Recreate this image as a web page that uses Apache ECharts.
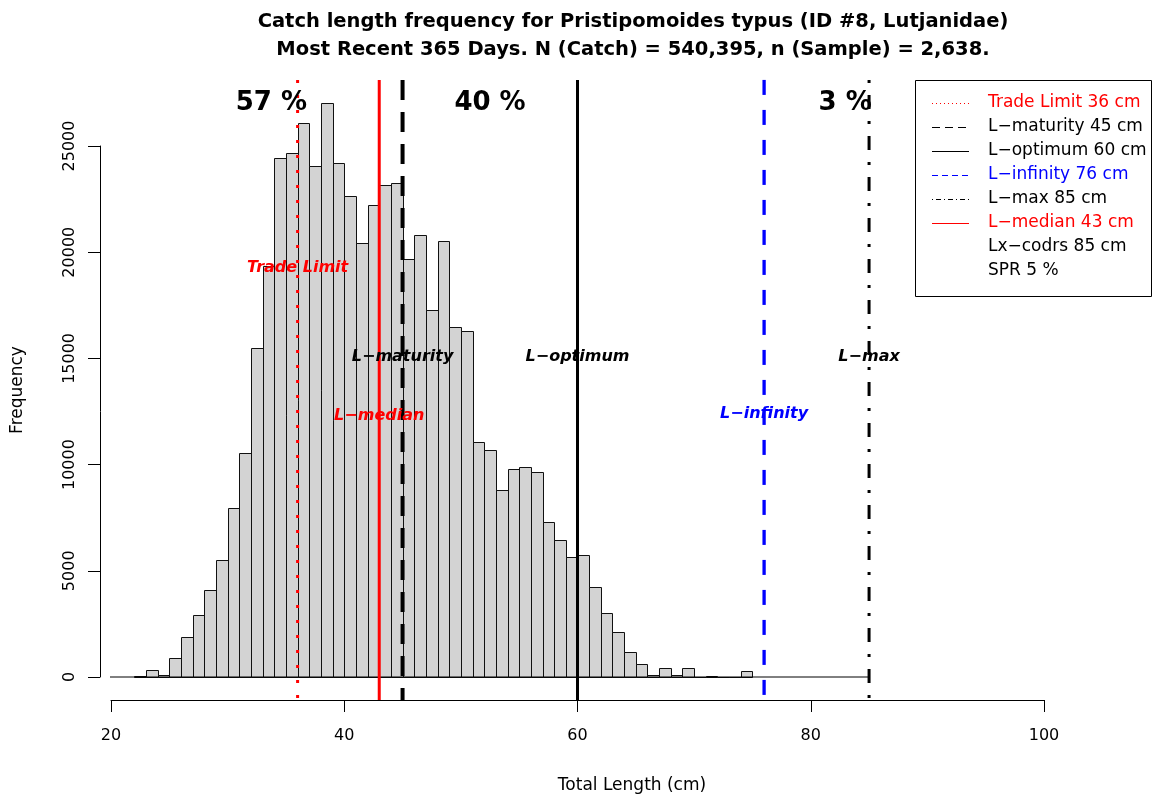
<!DOCTYPE html>
<html><head><meta charset="utf-8">
<script src="https://cdn.jsdelivr.net/npm/echarts@6/dist/echarts.min.js"></script>
<style>html,body{margin:0;padding:0;background:#fff}#c{width:1161px;height:803px}</style>
</head><body><div id="c"></div>
<script>
// ---- data ----
const binStarts = [22,23,24,25,26,27,28,29,30,31,32,33,34,35,36,37,38,39,40,41,42,43,44,45,46,47,48,49,50,51,52,53,54,55,56,57,58,59,60,61,62,63,64,65,66,67,68,69,70,71,72,73,74];
const counts = [50,330,90,880,1900,2930,4080,5520,7950,10530,15490,19330,24450,24690,26060,24070,27030,24180,22640,20430,22220,23170,23260,19700,20790,17280,20540,16500,16280,11050,10680,8800,9780,9880,9660,7320,6470,5670,5750,4240,3000,2120,1160,630,100,440,100,440,0,30,0,0,270];
const refNames = ['Trade Limit','L\u2212maturity','L\u2212optimum','L\u2212infinity','L\u2212max','L\u2212median'];
const refValues = [36,45,60,76,85,43];
const refColors = ['#FF0000','#000000','#000000','#0000FF','#000000','#FF0000'];
const legendLabels = ['Trade Limit 36 cm','L\u2212maturity 45 cm','L\u2212optimum 60 cm','L\u2212infinity 76 cm','L\u2212max 85 cm','L\u2212median 43 cm','Lx\u2212codrs 85 cm','SPR 5 %'];
const legendColors = ['#FF0000','#000000','#000000','#0000FF','#000000','#FF0000','#000000','#000000'];
const pctLabels = ['57 %','40 %','3 %'];
const pctX = [33.75, 52.5, 82.95];
const titleLines = ['Catch length frequency for Pristipomoides typus (ID #8, Lutjanidae)','Most Recent 365 Days. N (Catch) = 540,395, n (Sample) = 2,638.'];
const xTitle = 'Total Length (cm)';
const yTitle = 'Frequency';
const xMin = 20, xMax = 100, xStep = 20;
const yMin = 0, yMax = 25000, yStep = 5000;

// ---- derived ----
const maxCount = Math.max(...counts);
const yTop = maxCount * 1.04, yBot = -maxCount * 0.04;
const plotLeftX = 19.06;
const FONT = 'DejaVu Sans';

const refStyles = [
  {width:3, type:[3,12], cap:'butt'},
  {width:4, type:[20,12], cap:'butt'},
  {width:3, type:'solid', cap:'butt'},
  {width:3.3, type:[15,15], cap:'butt'},
  {width:3, type:[3,12,14,12], cap:'butt'},
  {width:3, type:'solid', cap:'butt'}
];
const legendLineStyles = [
  {width:1, type:[1,3]},
  {width:1, type:[8,5]},
  {width:1, type:'solid'},
  {width:1, type:[6,4]},
  {width:1, type:[1,3,5,3]},
  {width:1, type:'solid'}
];
const refLabelY = [19256, 15066, 15066, 12382, 15066, 12288];

const series = [];
series.push({
  type:'custom', name:'hist', clip:false, z:1,
  data: binStarts.map((b,i)=>[b, counts[i]]),
  encode:{x:0,y:1},
  renderItem:function(params, api){
    const x0 = api.value(0), v = api.value(1);
    const p0 = api.coord([x0, v]);
    const p1 = api.coord([x0+1, 0]);
    return {type:'rect', shape:{x:Math.round(p0[0])+0.5, y:Math.round(p0[1])+0.5, width:Math.round(p1[0])-Math.round(p0[0]), height:Math.round(p1[1])-Math.round(p0[1])},
      style:{fill:'#D3D3D3', stroke:'#111', lineWidth:1}};
  }
});
series.push({type:'line', clip:false, z:2, symbol:'none', silent:true,
  data:[[plotLeftX,0],[refValues[4],0]], lineStyle:{color:'#000', width:1}});
refValues.forEach((v,i)=>{
  series.push({type:'line', name:refNames[i], clip:false, z:3, symbol:'none', silent:true,
    data:[[v,yTop],[v,yBot]],
    lineStyle:{color:refColors[i], width:refStyles[i].width, type:refStyles[i].type, cap:refStyles[i].cap}});
});
series.push({type:'scatter', clip:false, z:5, symbolSize:0, silent:true, itemStyle:{opacity:1},
  data: refValues.map((v,i)=>({value:[v, refLabelY[i]], name:refNames[i],
    label:{show:true, position:'inside', formatter:refNames[i], color:refColors[i], opacity:1,
      fontFamily:FONT, fontSize:16, fontStyle:'italic', fontWeight:'bold'}}))
});
series.push({type:'scatter', clip:false, z:5, symbolSize:0, silent:true, itemStyle:{opacity:1},
  data: pctLabels.map((t,i)=>({value:[pctX[i], maxCount], label:{show:true, position:'inside', formatter:t, opacity:1,
    color:'#000', fontFamily:FONT, fontSize:26, fontWeight:'bold'}}))
});

const lg = [];
const LX = 915, LY = 80, LW = 236, LH = 216, rowH = 24, row0 = 103;
lg.push({type:'rect', shape:{x:LX+0.5, y:LY+0.5, width:LW, height:LH}, style:{fill:'#fff', stroke:'#000', lineWidth:1}, z:10});
legendLabels.forEach((t,i)=>{
  const y = row0 + i*rowH;
  if (i < legendLineStyles.length) {
    const s = legendLineStyles[i];
    lg.push({type:'line', shape:{x1:932, y1:y+0.5, x2:969, y2:y+0.5}, style:{stroke:legendColors[i], lineWidth:s.width, lineDash: s.type==='solid'?null:s.type}, z:11});
  }
  lg.push({type:'text', x:988, y:y, style:{text:t, fill:legendColors[i], font:'17px "DejaVu Sans"', verticalAlign:'middle', align:'left'}, z:11});
});
lg.push({type:'text', x:632, y:786, style:{text:xTitle, fill:'#000', font:'17px "DejaVu Sans"', align:'center', verticalAlign:'middle'}});
lg.push({type:'text', x:18, y:390, rotation:Math.PI/2, style:{text:yTitle, fill:'#000', font:'17px "DejaVu Sans"', align:'center', verticalAlign:'middle'}});

const chart = echarts.init(document.getElementById('c'), null, {renderer:'canvas'});
chart.setOption({
  animation:false,
  backgroundColor:'#fff',
  title:{text:titleLines.join('\n'), left:628, textAlign:'center', top:3,
    textStyle:{fontFamily:FONT, fontSize:19.5, fontWeight:'bold', color:'#000', lineHeight:28}},
  grid:{left:111, right:117, top:146, bottom:126, containLabel:false},
  xAxis:{type:'value', min:xMin, max:xMax, interval:xStep, offset:23,
    axisLine:{show:true, onZero:false, lineStyle:{color:'#000', width:1}},
    axisTick:{show:true, length:12, lineStyle:{color:'#000'}},
    axisLabel:{color:'#000', fontFamily:FONT, fontSize:16, margin:28},
    splitLine:{show:false}},
  yAxis:{type:'value', min:yMin, max:yMax, interval:yStep, offset:11,
    axisLine:{show:true, onZero:false, lineStyle:{color:'#000', width:1}},
    axisTick:{show:true, length:12, lineStyle:{color:'#000'}},
    axisLabel:{color:'#000', fontFamily:FONT, fontSize:16, margin:22, rotate:90, formatter:function(v){return String(v);}},
    splitLine:{show:false}},
  series: series,
  graphic: lg
});
</script>
</body></html>
